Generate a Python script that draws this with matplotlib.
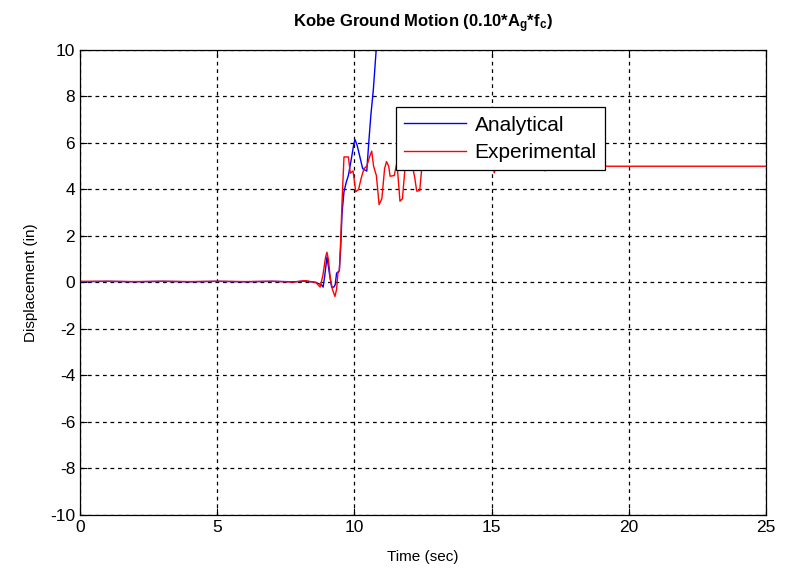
import numpy as np
import matplotlib.pyplot as plt

plt.rcParams['font.family'] = ['Liberation Sans Narrow', 'Liberation Sans', 'DejaVu Sans']
plt.rcParams['mathtext.default'] = 'regular'
plt.rcParams['axes.unicode_minus'] = False

# Experimental record (time in sec, displacement in in)
t_exp = [0, 1, 2, 3, 4, 5, 6, 7, 7.8, 8.2, 8.6, 8.75, 8.85, 8.95, 9.0, 9.05, 9.12,
         9.2, 9.29, 9.35, 9.4, 9.45, 9.5, 9.55, 9.62, 9.78, 9.85, 9.95, 10.05,
         10.15, 10.25, 10.35, 10.45, 10.55, 10.63, 10.7, 10.8, 10.9, 11.0, 11.1,
         11.17, 11.25, 11.3, 11.45, 11.55, 11.66, 11.75, 11.84, 11.95, 12.1, 12.2,
         12.27, 12.38, 12.45, 12.6, 13.0, 14.0, 15.05, 15.1, 15.15, 16.9, 16.95,
         17.0, 25.0]
d_exp = [0.05, 0.05, 0.04, 0.05, 0.04, 0.05, 0.04, 0.05, 0.02, 0.08, 0.0, -0.2, 0.3,
         1.1, 1.3, 1.0, 0.2, -0.3, -0.6, -0.3, 0.4, 0.5, 1.8, 3.5, 5.4, 5.4, 4.7,
         4.8, 3.9, 4.0, 4.5, 4.9, 5.0, 5.4, 5.65, 5.0, 4.6, 3.35, 3.6, 4.9, 5.2,
         5.0, 4.57, 4.6, 5.16, 3.5, 3.6, 4.86, 5.2, 5.1, 4.5, 3.93, 3.95, 4.86,
         5.2, 5.0, 5.0, 5.0, 4.72, 5.0, 5.0, 4.8, 5.0, 5.0]

# Analytical response, leaves the plot at top near 10.8 s
t_ana = [0, 1, 2, 3, 4, 5, 6, 7, 7.8, 8.2, 8.6, 8.8, 8.86, 8.92, 9.0, 9.1, 9.17,
         9.25, 9.3, 9.35, 9.45, 9.5, 9.55, 9.62, 9.7, 9.78, 9.84, 9.9, 9.97,
         10.02, 10.1, 10.2, 10.3, 10.45, 10.54, 10.6, 10.69, 10.79, 10.9, 11.2]
d_ana = [0.03, 0.05, 0.03, 0.05, 0.03, 0.05, 0.03, 0.05, 0.03, 0.06, 0.0, -0.1,
         -0.2, 0.3, 1.1, 0.3, -0.2, -0.2, -0.1, 0.4, 0.5, 1.5, 3.0, 3.9, 4.3,
         4.6, 5.0, 5.4, 5.9, 6.15, 5.9, 5.4, 4.9, 4.79, 6.29, 7.2, 8.3, 9.95,
         11.5, 14.0]

fig = plt.figure(figsize=(7.94, 5.72), dpi=100)
ax = fig.add_axes([0.1008, 0.0997, 0.8639, 0.8129])

ax.plot(t_ana, d_ana, color='blue', linewidth=1.0, label='Analytical')
ax.plot(t_exp, d_exp, color='red', linewidth=1.0, label='Experimental')

ax.set_xlim(0, 25)
ax.set_ylim(-10, 10)
ax.set_xticks(np.arange(0, 26, 5))
ax.set_yticks(np.arange(-10, 11, 2))
ax.tick_params(direction='in', labelsize=12.5, length=5, width=0.8, top=True, right=True)
ax.grid(True, color='black', linestyle=(0, (3, 3)), linewidth=0.9)
for s in ax.spines.values():
    s.set_linewidth(0.9)

ax.set_xlabel('Time (sec)', fontsize=11, labelpad=11)
ax.set_ylabel('Displacement (in)', fontsize=11, labelpad=9)
ax.set_title('Kobe Ground Motion (0.10*A$_g$*f$_c$)', fontsize=12, fontweight='bold', pad=16)

leg = ax.legend(loc='upper left', bbox_to_anchor=(0.46, 0.877), fontsize=15,
                fancybox=False, framealpha=1, edgecolor='black', handlelength=3.0,
                borderpad=0.4, labelspacing=0.4, handletextpad=0.4, borderaxespad=0)
leg.get_frame().set_linewidth(0.9)

fig.savefig('out.png', dpi=100)
